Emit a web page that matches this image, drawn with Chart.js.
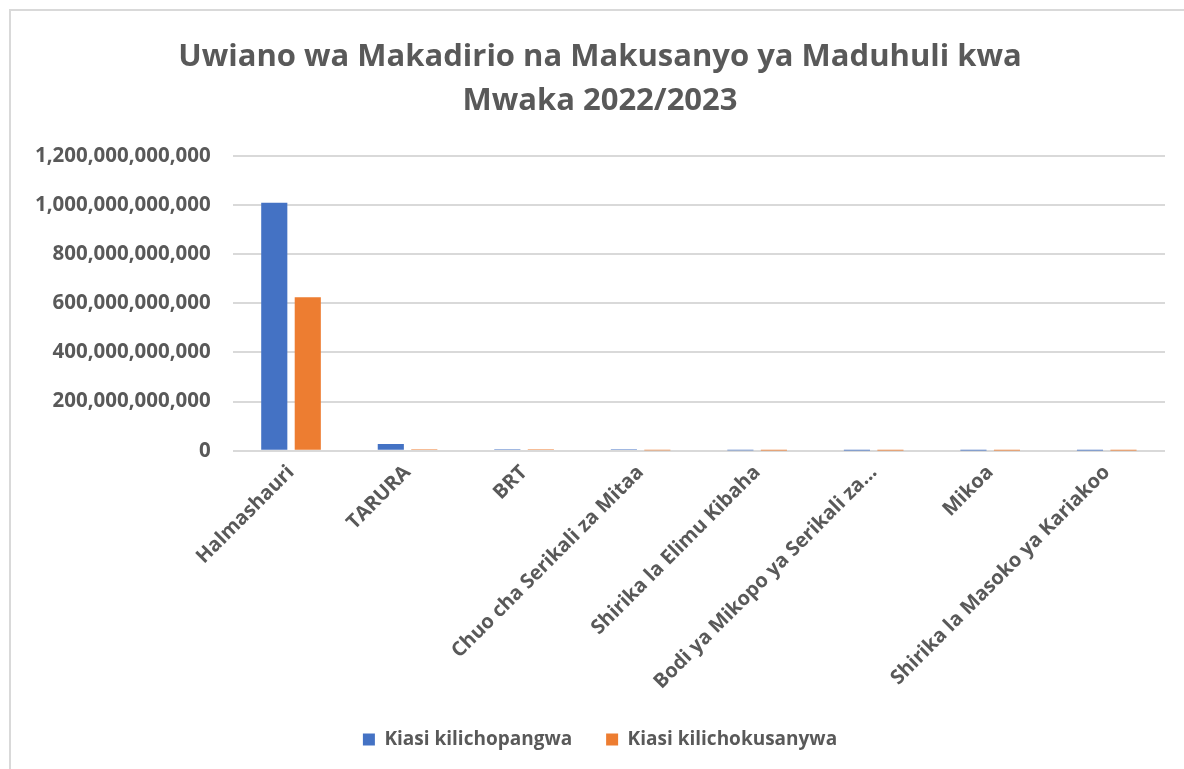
<!DOCTYPE html>
<html>
<head>
<meta charset="utf-8">
<script src="https://cdn.jsdelivr.net/npm/chart.js@4.4.1/dist/chart.umd.min.js"></script>
<style>
  html, body { margin: 0; padding: 0; background: #fff; overflow: hidden; }
  #wrap { position: relative; width: 1184px; height: 769px; }
  #frame { position: absolute; left: 9px; top: 9px; width: 1300px; height: 900px; border: 2px solid #d9d9d9; pointer-events: none; }
</style>
</head>
<body>
<div id="wrap">
  <canvas id="c" width="1184" height="769"></canvas>
  <div id="frame"></div>
</div>
<script>
const categories = [
  "Halmashauri",
  "TARURA",
  "BRT",
  "Chuo cha Serikali za Mitaa",
  "Shirika la Elimu Kibaha",
  "Bodi ya Mikopo ya Serikali za...",
  "Mikoa",
  "Shirika la Masoko ya Kariakoo"
];
const seriesNames = ["Kiasi kilichopangwa", "Kiasi kilichokusanywa"];
const planned = [1010000000000, 27000000000, 6000000000, 6000000000, 500000000, 300000000, 200000000, 200000000];
const collected = [625000000000, 6000000000, 6000000000, 500000000, 300000000, 200000000, 100000000, 100000000];
const yTicks = [0, 200000000000, 400000000000, 600000000000, 800000000000, 1000000000000, 1200000000000];
const titleLines = ["Uwiano wa Makadirio na Makusanyo ya Maduhuli kwa", "Mwaka 2022/2023"];

const textColor = "#595959";
const fontFamily = "'Open Sans', 'Noto Sans', sans-serif";

new Chart(document.getElementById("c"), {
  type: "bar",
  data: {
    labels: categories,
    datasets: [
      { label: seriesNames[0], data: planned, backgroundColor: "#4472C4", borderWidth: 0 },
      { label: seriesNames[1], data: collected, backgroundColor: "#ED7D31", borderWidth: 0 }
    ]
  },
  options: {
    responsive: false,
    animation: false,
    layout: { padding: { left: 35, right: 19, top: 0, bottom: 10 } },
    datasets: { bar: { categoryPercentage: 0.575, barPercentage: 0.78 } },
    plugins: {
      title: {
        display: true,
        text: titleLines,
        color: textColor,
        font: { family: fontFamily, size: 31, weight: "bold", lineHeight: 1.42 },
        padding: { top: 35, bottom: 33 }
      },
      legend: {
        position: "bottom",
        labels: {
          color: textColor,
          font: { family: fontFamily, size: 19, weight: "bold" },
          boxWidth: 12,
          boxHeight: 12,
          padding: 34
        }
      },
      tooltip: { enabled: false }
    },
    scales: {
      x: {
        grid: { display: false },
        border: { display: false },
        ticks: {
          color: textColor,
          font: { family: fontFamily, size: 20, weight: "bold" },
          minRotation: 45,
          maxRotation: 45,
          autoSkip: false,
          padding: 2
        }
      },
      y: {
        min: 0,
        max: 1200000000000,
        afterBuildTicks: (axis) => { axis.ticks = yTicks.map(v => ({ value: v })); },
        afterFit: (scale) => { scale.width -= scale.options.ticks.padding; },
        grid: { color: "#d9d9d9", lineWidth: 2, drawTicks: false },
        border: { display: false },
        ticks: {
          color: textColor,
          font: { family: fontFamily, size: 20.5, weight: "bold" },
          padding: 22,
          callback: (v) => Number(v).toLocaleString("en-US")
        }
      }
    }
  }
});
</script>
</body>
</html>
